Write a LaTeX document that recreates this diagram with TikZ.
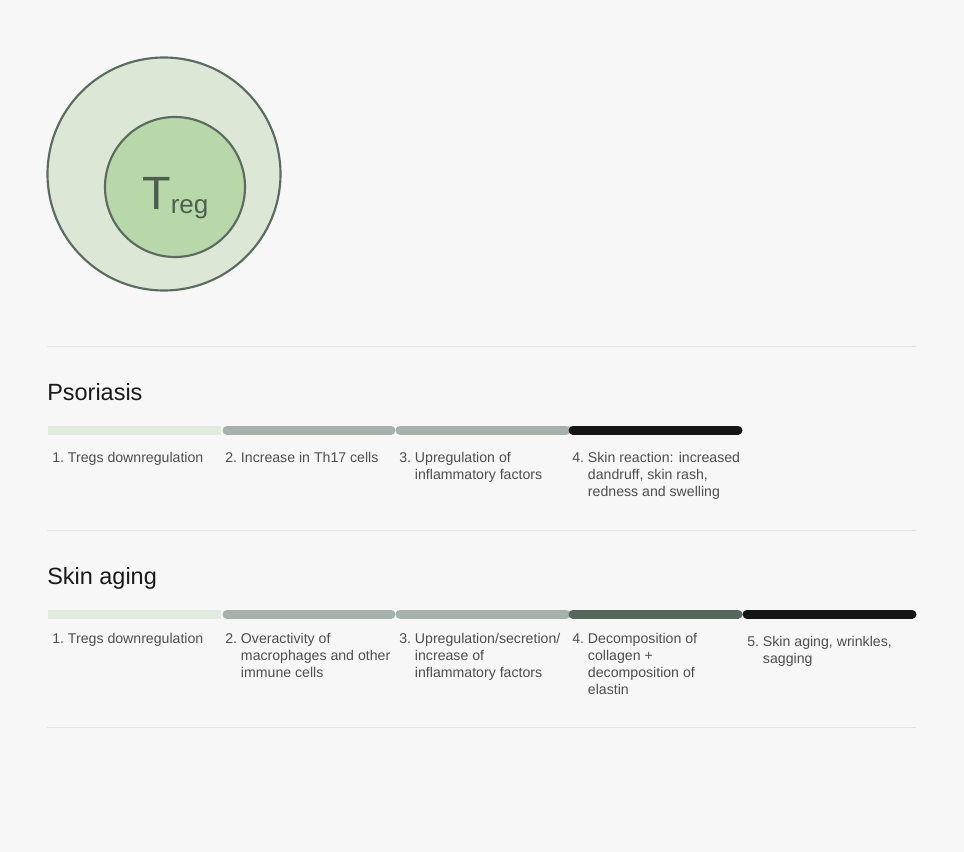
\documentclass[tikz,border=0pt]{standalone}
\usepackage{fontspec}
\setmainfont{Liberation Sans}
\definecolor{bg}{HTML}{F7F7F7}
\definecolor{sepc}{HTML}{E4E4E4}
\definecolor{outerfill}{HTML}{DCE7D6}
\definecolor{innerfill}{HTML}{B9D8A9}
\definecolor{ringc}{HTML}{5A6C60}
\definecolor{tregc}{HTML}{4B5E50}
\definecolor{lightbar}{HTML}{E2ECDC}
\definecolor{graybar}{HTML}{A6B1AC}
\definecolor{darkgreenbar}{HTML}{56685E}
\definecolor{blackbar}{HTML}{141514}
\definecolor{labelc}{HTML}{4E4E4E}
\definecolor{headc}{HTML}{1A1A1A}
\begin{document}
\begin{tikzpicture}[x=0.75pt,y=-0.75pt,
  sepline/.style={draw=sepc,line width=0.75pt},
  barseg/.style={line width=6.75pt,line cap=round},
  barsq/.style={line width=6.75pt,line cap=butt},
  heading/.style={anchor=base west,inner sep=0pt,text=headc,font=\fontsize{17.6}{20}\selectfont},
  steplabel/.style={anchor=north west,inner sep=0pt,text=labelc,align=left,font=\fontsize{10.6}{12.75}\selectfont}]
\fill[bg] (0,0) rectangle (964,852);
\useasboundingbox (0,0) rectangle (964,852);
% Treg circles
\node[circle,draw=ringc,line width=1.6pt,fill=outerfill,minimum size=233*0.75pt,inner sep=0pt] (outer) at (164,174) {};
\node[circle,draw=ringc,line width=1.6pt,fill=innerfill,minimum size=140*0.75pt,inner sep=0pt] (inner) at (175,187) {};
\node[anchor=base west,inner sep=0pt,text=tregc] (treg) at (142,210) {\fontsize{35}{35}\selectfont T\raisebox{-3pt}{\fontsize{19.5}{19.5}\selectfont reg}};
% separators
\coordinate (s1a) at (47,347); \coordinate (s1b) at (916,347);
\coordinate (s2a) at (47,530); \coordinate (s2b) at (916,530);
\coordinate (s3a) at (47,727); \coordinate (s3b) at (916,727);
\draw[sepline] (s1a) -- (s1b);
\draw[sepline] (s2a) -- (s2b);
\draw[sepline] (s3a) -- (s3b);
% Psoriasis
\node[heading] (psor) at (47,400) {Psoriasis};
\coordinate (p0) at (48,430); \coordinate (p1) at (221,430);
\coordinate (p2a) at (227,430); \coordinate (p2b) at (391,430);
\coordinate (p3a) at (400,430); \coordinate (p3b) at (566,430);
\coordinate (p4a) at (573,430); \coordinate (p4b) at (738,430);
\draw[barsq,lightbar] (p0) -- (p1);
\draw[barseg,graybar] (p2a) -- (p2b);
\draw[barseg,graybar] (p3a) -- (p3b);
\draw[barseg,blackbar] (p4a) -- (p4b);
\node[steplabel] (pl1) at (52,450) {\begin{tabular}{@{}l@{\ }l@{}}1.&Tregs downregulation\end{tabular}};
\node[steplabel] (pl2) at (225,450) {\begin{tabular}{@{}l@{\ }l@{}}2.&Increase in Th17 cells\end{tabular}};
\node[steplabel] (pl3) at (399,450) {\begin{tabular}{@{}l@{\ }l@{}}3.&Upregulation of\\&inflammatory factors\end{tabular}};
\node[steplabel] (pl4) at (572,450) {\begin{tabular}{@{}l@{\ }l@{}}4.&Skin reaction: increased\\&dandruff, skin rash,\\&redness and swelling\end{tabular}};
% Skin aging
\node[heading] (aging) at (47,584) {Skin aging};
\coordinate (a0) at (48,614); \coordinate (a1) at (221,614);
\coordinate (a2a) at (227,614); \coordinate (a2b) at (391,614);
\coordinate (a3a) at (400,614); \coordinate (a3b) at (566,614);
\coordinate (a4a) at (573,614); \coordinate (a4b) at (738,614);
\coordinate (a5a) at (747,614); \coordinate (a5b) at (912,614);
\draw[barsq,lightbar] (a0) -- (a1);
\draw[barseg,graybar] (a2a) -- (a2b);
\draw[barseg,graybar] (a3a) -- (a3b);
\draw[barseg,darkgreenbar] (a4a) -- (a4b);
\draw[barseg,blackbar] (a5a) -- (a5b);
\node[steplabel] (al1) at (52,631) {\begin{tabular}{@{}l@{\ }l@{}}1.&Tregs downregulation\end{tabular}};
\node[steplabel] (al2) at (225,631) {\begin{tabular}{@{}l@{\ }l@{}}2.&Overactivity of\\&macrophages and other\\&immune cells\end{tabular}};
\node[steplabel] (al3) at (399,631) {\begin{tabular}{@{}l@{\ }l@{}}3.&Upregulation/secretion/\\&increase of\\&inflammatory factors\end{tabular}};
\node[steplabel] (al4) at (572,631) {\begin{tabular}{@{}l@{\ }l@{}}4.&Decomposition of\\&collagen +\\&decomposition of\\&elastin\end{tabular}};
\node[steplabel] (al5) at (747,634) {\begin{tabular}{@{}l@{\ }l@{}}5.&Skin aging, wrinkles,\\&sagging\end{tabular}};
\end{tikzpicture}
\end{document}
